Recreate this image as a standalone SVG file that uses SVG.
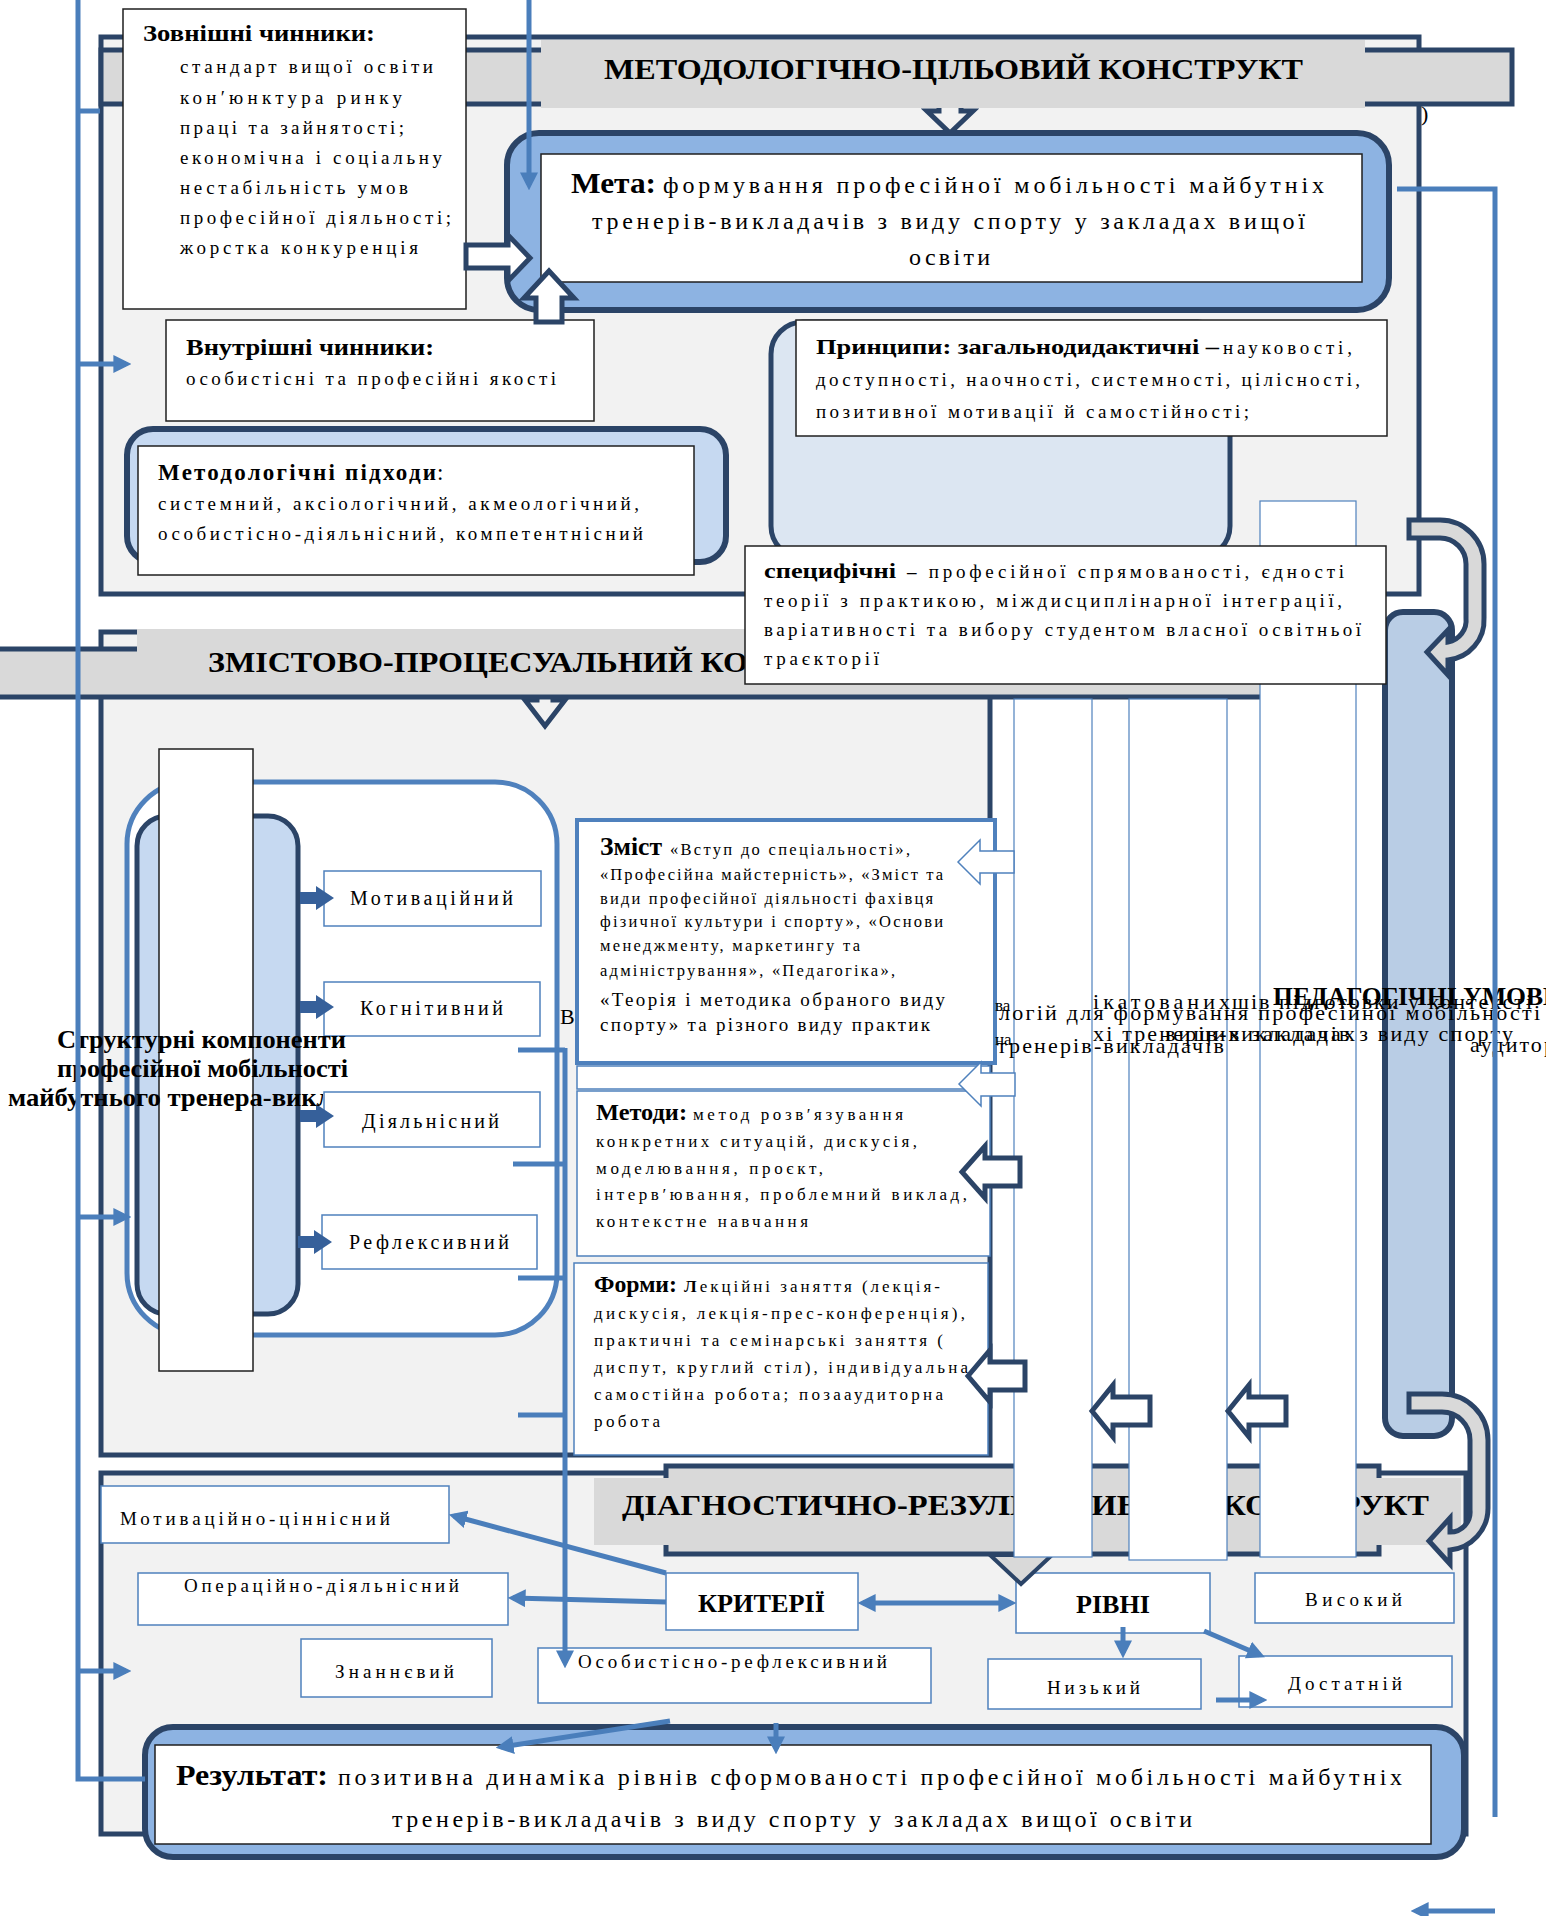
<svg xmlns="http://www.w3.org/2000/svg" width="1546" height="1916" viewBox="0 0 1546 1916">
<defs>
<style>
text{font-family:"Liberation Serif","Times New Roman",serif;fill:#000}
.b{font-weight:bold}
.frame{fill:#f2f2f2;stroke:#2b4467;stroke-width:5}
.band{fill:#d9d9d9;stroke:#2b4467;stroke-width:5}
.lite{fill:#d9d9d9}
.wbox{fill:#fff;stroke:#1f1f1f;stroke-width:1.5}
.bbox{fill:#fff;stroke:#4f81bd;stroke-width:1.5}
.conn{fill:none;stroke:#4a7ebb;stroke-width:5}
.harrow{fill:#fff;stroke:#2b4467;stroke-width:5}
.larrow{fill:#fff;stroke:#4f81bd;stroke-width:1.5}
.sarrow{fill:#36609a}
.col{fill:#fff;stroke:#4f81bd;stroke-width:1.2}
.uturn{fill:#d9d9d9;stroke:#2b4467;stroke-width:5}
</style>
<marker id="ah" viewBox="0 0 10 10" refX="7" refY="5" markerWidth="3.6" markerHeight="3.6" orient="auto-start-reverse"><path d="M0,0 L10,5 L0,10 z" fill="#4a7ebb"/></marker>
<clipPath id="clipL3"><rect x="0" y="1075" width="323" height="45"/></clipPath>
</defs>
<rect width="1546" height="1916" fill="#fff"/>

<g id="methodological-section">
<rect class="frame" x="101" y="37" width="1318" height="557"/>
<text x="1421" y="121" font-size="22">)</text>
<path class="harrow" style="fill:#f2f2f2" d="M939,96 H961 V111 H973 L950,133 L927,111 H939 Z"/>
<rect class="band" x="101" y="50" width="1411" height="54"/>
<rect class="lite" x="541" y="40" width="824" height="68"/>
<text class="b" x="604" y="79" font-size="30" textLength="699" lengthAdjust="spacingAndGlyphs">МЕТОДОЛОГІЧНО-ЦІЛЬОВИЙ КОНСТРУКТ</text>
</g>

<g id="goal">
<rect x="507" y="133" width="882" height="177" rx="32" fill="#8db3e2" stroke="#2b4467" stroke-width="6"/>
<rect class="wbox" x="541" y="154" width="821" height="128"/>
<text class="b" x="571" y="193" font-size="30" textLength="85" lengthAdjust="spacingAndGlyphs">Мета:</text>
<text x="663" y="193" font-size="24" textLength="661" lengthAdjust="spacing">формування професійної мобільності майбутніх</text>
<text x="592" y="229" font-size="24" textLength="713" lengthAdjust="spacing">тренерів-викладачів з виду спорту у закладах вищої</text>
<text x="909" y="265" font-size="24" textLength="81" lengthAdjust="spacing">освіти</text>
</g>

<g id="external-factors">
<rect class="wbox" x="123" y="9" width="343" height="300"/>
<text class="b" x="143" y="41" font-size="23" textLength="232" lengthAdjust="spacingAndGlyphs">Зовнішні чинники:</text>
<text x="180" y="73" font-size="19" textLength="253" lengthAdjust="spacing">стандарт вищої освіти</text>
<text x="180" y="104" font-size="19" textLength="222" lengthAdjust="spacing">кон′юнктура ринку</text>
<text x="180" y="134" font-size="19" textLength="224" lengthAdjust="spacing">праці та зайнятості;</text>
<text x="180" y="164" font-size="19" textLength="262" lengthAdjust="spacing">економічна і соціальну</text>
<text x="180" y="194" font-size="19" textLength="228" lengthAdjust="spacing">нестабільність умов</text>
<text x="180" y="224" font-size="19" textLength="271" lengthAdjust="spacing">професійної діяльності;</text>
<text x="180" y="254" font-size="19" textLength="238" lengthAdjust="spacing">жорстка конкуренція</text>
</g>

<g id="internal-factors">
<rect class="wbox" x="166" y="320" width="428" height="101"/>
<text class="b" x="186" y="355" font-size="23" textLength="248" lengthAdjust="spacingAndGlyphs">Внутрішні чинники:</text>
<text x="186" y="385" font-size="19" textLength="370" lengthAdjust="spacing">особистісні та професійні якості</text>
</g>

<g id="factor-arrows">
<path class="harrow" stroke-width="4" d="M466,245 H508 V235 L530,258 L508,281 V268 H466 Z"/>
<path class="harrow" stroke-width="4" d="M536,322 V298 H524 L549,271 L574,298 H562 V322 Z"/>
</g>

<g id="approaches">
<rect x="127" y="429" width="599" height="133" rx="26" fill="#c6d9f1" stroke="#2b4467" stroke-width="6"/>
<rect class="wbox" x="138" y="446" width="556" height="129"/>
<text class="b" x="158" y="480" font-size="23" textLength="278" lengthAdjust="spacing">Методологічні  підходи</text>
<text x="437" y="480" font-size="23">:</text>
<text x="158" y="510" font-size="19" textLength="481" lengthAdjust="spacing">системний, аксіологічний, акмеологічний,</text>
<text x="158" y="540" font-size="19" textLength="485" lengthAdjust="spacing">особистісно-діяльнісний, компетентнісний</text>
</g>

<g id="principles">
<rect x="771" y="322" width="459" height="236" rx="32" fill="#dce6f2" stroke="#2b4467" stroke-width="5"/>
<rect class="wbox" x="796" y="320" width="591" height="116"/>
<text class="b" x="816" y="354" font-size="22" textLength="403" lengthAdjust="spacingAndGlyphs">Принципи: загальнодидактичні –</text>
<text x="1223" y="354" font-size="19" textLength="129" lengthAdjust="spacing">науковості,</text>
<text x="816" y="386" font-size="19" textLength="544" lengthAdjust="spacing">доступності, наочності, системності, цілісності,</text>
<text x="816" y="418" font-size="19" textLength="433" lengthAdjust="spacing">позитивної мотивації й самостійності;</text>
</g>

<g id="content-section">
<rect class="frame" x="101" y="632" width="889" height="823"/>
<path class="harrow" style="fill:#f2f2f2" d="M537,688 H553 V700 H565 L545,726 L525,700 H537 Z"/>
<rect class="band" x="-5" y="649" width="1271" height="48"/>
<rect class="lite" x="137" y="629" width="1100" height="65"/>
<text class="b" x="208" y="672" font-size="30" textLength="540" lengthAdjust="spacingAndGlyphs">ЗМІСТОВО-ПРОЦЕСУАЛЬНИЙ КО</text>
</g>

<g id="structural-components">
<rect x="127" y="782" width="430" height="553" rx="62" fill="#fff" stroke="#4f81bd" stroke-width="5"/>
<rect x="137" y="816" width="161" height="498" rx="30" fill="#c6d9f1" stroke="#2b4467" stroke-width="5"/>
<rect class="wbox" x="159" y="749" width="94" height="622"/>
</g>

<g id="comp-motivational">
<rect class="bbox" x="324" y="871" width="217" height="55"/>
<text x="350" y="905" font-size="20" textLength="163" lengthAdjust="spacing">Мотиваційний</text>
</g>
<g id="comp-cognitive">
<rect class="bbox" x="324" y="982" width="216" height="54"/>
<text x="360" y="1015" font-size="20" textLength="143" lengthAdjust="spacing">Когнітивний</text>
</g>
<g id="comp-activity">
<rect class="bbox" x="324" y="1092" width="216" height="55"/>
<text x="362" y="1128" font-size="20" textLength="137" lengthAdjust="spacing">Діяльнісний</text>
</g>
<g id="comp-reflexive">
<rect class="bbox" x="322" y="1215" width="215" height="54"/>
<text x="349" y="1249" font-size="20" textLength="160" lengthAdjust="spacing">Рефлексивний</text>
</g>
<g id="comp-arrows">
<path class="sarrow" d="M300,892 H316 V886 L334,898 L316,910 V904 H300 Z"/>
<path class="sarrow" d="M300,1001 H316 V995 L334,1007 L316,1019 V1013 H300 Z"/>
<path class="sarrow" d="M300,1110 H316 V1104 L334,1116 L316,1128 V1122 H300 Z"/>
<path class="sarrow" d="M298,1236 H314 V1230 L332,1242 L314,1254 V1248 H298 Z"/>
</g>
<g id="structural-label">
<text class="b" x="57" y="1048" font-size="25" textLength="289" lengthAdjust="spacingAndGlyphs">Структурні компоненти</text>
<text class="b" x="57" y="1077" font-size="25" textLength="291" lengthAdjust="spacingAndGlyphs">професійної мобільності</text>
<text class="b" x="8" y="1106" font-size="25" textLength="391" lengthAdjust="spacingAndGlyphs" clip-path="url(#clipL3)">майбутнього тренера-викладача</text>
</g>

<g id="content">
<rect x="577" y="820" width="418" height="243" fill="#fff" stroke="#4f81bd" stroke-width="4"/>
<text class="b" x="600" y="855" font-size="25" textLength="62" lengthAdjust="spacingAndGlyphs">Зміст</text>
<text x="670" y="855" font-size="16.5" textLength="240" lengthAdjust="spacing">«Вступ до спеціальності»,</text>
<text x="600" y="880" font-size="16.5" textLength="343" lengthAdjust="spacing">«Професійна майстерність», «Зміст та</text>
<text x="600" y="904" font-size="16.5" textLength="333" lengthAdjust="spacing">види професійної діяльності фахівця</text>
<text x="600" y="927" font-size="16.5" textLength="343" lengthAdjust="spacing">фізичної культури і спорту», «Основи</text>
<text x="600" y="951" font-size="16.5" textLength="260" lengthAdjust="spacing">менеджменту, маркетингу та</text>
<text x="600" y="976" font-size="16.5" textLength="295" lengthAdjust="spacing">адміністрування», «Педагогіка»,</text>
<text x="600" y="1006" font-size="19" textLength="345" lengthAdjust="spacing">«Теорія і методика обраного виду</text>
<text x="600" y="1031" font-size="19" textLength="330" lengthAdjust="spacing">спорту» та різного виду практик</text>
</g>

<g id="methods">
<rect class="bbox" x="577" y="1066" width="413" height="23"/>
<rect class="bbox" x="577" y="1091" width="413" height="165"/>
<text class="b" x="596" y="1120" font-size="23" textLength="91" lengthAdjust="spacingAndGlyphs">Методи:</text>
<text x="693" y="1120" font-size="17" textLength="210" lengthAdjust="spacing">метод розв′язування</text>
<text x="596" y="1147" font-size="17" textLength="321" lengthAdjust="spacing">конкретних ситуацій, дискусія,</text>
<text x="596" y="1174" font-size="17" textLength="227" lengthAdjust="spacing">моделювання, проєкт,</text>
<text x="596" y="1200" font-size="17" textLength="371" lengthAdjust="spacing">інтерв′ювання, проблемний виклад,</text>
<text x="596" y="1227" font-size="17" textLength="212" lengthAdjust="spacing">контекстне навчання</text>
</g>

<g id="forms">
<rect class="bbox" x="574" y="1263" width="414" height="192"/>
<text class="b" x="594" y="1292" font-size="23" textLength="83" lengthAdjust="spacingAndGlyphs">Форми:</text>
<text x="684" y="1292" font-size="17" textLength="256" lengthAdjust="spacing"><tspan font-weight="bold">Л</tspan>екційні заняття (лекція-</text>
<text x="594" y="1319" font-size="17" textLength="371" lengthAdjust="spacing">дискусія, лекція-прес-конференція),</text>
<text x="594" y="1346" font-size="17" textLength="349" lengthAdjust="spacing">практичні та семінарські заняття (</text>
<text x="594" y="1373" font-size="17" textLength="374" lengthAdjust="spacing">диспут, круглий стіл), індивідуальна</text>
<text x="594" y="1400" font-size="17" textLength="349" lengthAdjust="spacing">самостійна робота; позааудиторна</text>
<text x="594" y="1427" font-size="17" textLength="66" lengthAdjust="spacing">робота</text>
</g>

<g id="diagnostic-section">
<rect class="frame" x="101" y="1473" width="1365" height="361"/>
<rect class="band" x="666" y="1466" width="713" height="88"/>
<rect class="lite" x="594" y="1478" width="867" height="67"/>
<text class="b" x="622" y="1515" font-size="30" textLength="807" lengthAdjust="spacingAndGlyphs">ДІАГНОСТИЧНО-РЕЗУЛЬТАТИВНИЙ КОНСТРУКТ</text>
</g>

<g id="crit-motiv"><rect class="bbox" x="101" y="1486" width="348" height="57"/><text x="120" y="1525" font-size="19" textLength="270" lengthAdjust="spacing">Мотиваційно-ціннісний</text></g>
<g id="crit-oper"><rect class="bbox" x="138" y="1573" width="370" height="52"/><text x="184" y="1592" font-size="19" textLength="275" lengthAdjust="spacing">Операційно-діяльнісний</text></g>
<g id="crit-know"><rect class="bbox" x="301" y="1639" width="191" height="58"/><text x="335" y="1678" font-size="19" textLength="119" lengthAdjust="spacing">Знаннєвий</text></g>
<g id="crit-pers"><rect class="bbox" x="538" y="1648" width="393" height="55"/><text x="578" y="1668" font-size="19" textLength="309" lengthAdjust="spacing">Особистісно-рефлексивний</text></g>
<g id="criteria"><rect class="bbox" x="666" y="1573" width="192" height="57"/><text class="b" x="698" y="1612" font-size="25" textLength="127" lengthAdjust="spacingAndGlyphs">КРИТЕРІЇ</text></g>
<g id="levels"><rect class="bbox" x="1016" y="1573" width="194" height="60"/><text class="b" x="1076" y="1613" font-size="25" textLength="74" lengthAdjust="spacingAndGlyphs">РІВНІ</text></g>
<g id="lvl-high"><rect class="bbox" x="1255" y="1573" width="199" height="50"/><text x="1305" y="1606" font-size="19" textLength="97" lengthAdjust="spacing">Високий</text></g>
<g id="lvl-low"><rect class="bbox" x="988" y="1659" width="213" height="50"/><text x="1047" y="1694" font-size="19" textLength="93" lengthAdjust="spacing">Низький</text></g>
<g id="lvl-mid"><rect class="bbox" x="1239" y="1656" width="213" height="51"/><text x="1288" y="1690" font-size="19" textLength="114" lengthAdjust="spacing">Достатній</text></g>
<path id="diag-pointer" d="M990,1555 L1052,1555 L1021,1584 Z" fill="#d9d9d9" stroke="#2b4467" stroke-width="4"/>

<g id="result">
<rect x="145" y="1727" width="1319" height="130" rx="28" fill="#8db3e2" stroke="#2b4467" stroke-width="6"/>
<rect class="wbox" x="155" y="1745" width="1276" height="99"/>
<text class="b" x="176" y="1785" font-size="30" textLength="152" lengthAdjust="spacingAndGlyphs">Результат:</text>
<text x="338" y="1785" font-size="24" textLength="1064" lengthAdjust="spacing">позитивна динаміка рівнів сформованості професійної мобільності майбутніх</text>
<text x="392" y="1827" font-size="24" textLength="800" lengthAdjust="spacing">тренерів-викладачів з виду спорту у закладах вищої освіти</text>
</g>

<g id="columns">
<rect class="col" x="1014" y="699" width="78" height="858"/>
<rect class="col" x="1129" y="699" width="98" height="861"/>
<rect class="col" x="1260" y="501" width="96" height="1056"/>
</g>

<g id="conditions-bar">
<rect x="1385" y="612" width="67" height="824" rx="18" fill="#b9cde5" stroke="#2b4467" stroke-width="6"/>
</g>

<g id="pedagogical-conditions-text">
<text x="560" y="1024" font-size="22">В</text>
<text x="999" y="1020" font-size="22" textLength="541" lengthAdjust="spacing">логій для формування професійної мобільності</text>
<text x="997" y="1053" font-size="22" textLength="227" lengthAdjust="spacing">тренерів-викладачів</text>
<text x="995" y="1011" font-size="17">ва</text>
<text x="995" y="1045" font-size="17">на</text>
<text x="1093" y="1009" font-size="22" textLength="137" lengthAdjust="spacing">ікатованих</text>
<text x="1232" y="1009" font-size="22" textLength="300" lengthAdjust="spacing">шів підготовки у контексті</text>
<text x="1093" y="1041" font-size="22" textLength="420" lengthAdjust="spacing">хі тренерів-викладачів з виду спорту</text>
<text x="1165" y="1041" font-size="22" textLength="190" lengthAdjust="spacing">вищих закладах</text>
<text x="1470" y="1052" font-size="22" textLength="120" lengthAdjust="spacing">аудиторної</text>
<text class="b" x="1273" y="1005" font-size="26" textLength="290" lengthAdjust="spacingAndGlyphs">ПЕДАГОГІЧНІ УМОВИ</text>
</g>

<g id="block-arrows">
<path class="larrow" d="M958,862 L980,840 V851 H1014 V873 H980 V884 Z"/>
<path class="larrow" d="M959,1084 L981,1062 V1073 H1015 V1096 H981 V1106 Z"/>
<path class="harrow" d="M962,1172 L985,1146 V1158 H1020 V1186 H985 V1198 Z"/>
<path class="harrow" d="M968,1376 L990,1350 V1362 H1025 V1390 H990 V1402 Z"/>
<path class="harrow" d="M1092,1411 L1113,1385 V1397 H1150 V1425 H1113 V1437 Z"/>
<path class="harrow" d="M1228,1411 L1249,1385 V1397 H1286 V1425 H1249 V1437 Z"/>
<path class="uturn" d="M1409,520 H1440 A44,44 0 0 1 1484,564 V618 A40,40 0 0 1 1448,660 V675 L1427,652 L1448,630 V642 A22,22 0 0 0 1466,618 V564 A26,26 0 0 0 1440,538 H1409 Z"/>
<path class="uturn" d="M1409,1394 H1442 A46,46 0 0 1 1488,1440 V1508 A42,42 0 0 1 1450,1550 V1564 L1429,1541 L1450,1518 V1532 A20,20 0 0 0 1470,1510 V1440 A28,28 0 0 0 1442,1412 H1409 Z"/>
</g>

<g id="specific-principles">
<rect class="wbox" x="745" y="546" width="641" height="138"/>
<text class="b" x="764" y="578" font-size="22" textLength="132" lengthAdjust="spacingAndGlyphs">специфічні</text>
<text x="907" y="578" font-size="19" textLength="437" lengthAdjust="spacing"><tspan font-weight="bold">–</tspan> професійної спрямованості, єдності</text>
<text x="764" y="607" font-size="19" textLength="578" lengthAdjust="spacing">теорії з практикою, міждисциплінарної інтеграції,</text>
<text x="764" y="636" font-size="19" textLength="597" lengthAdjust="spacing">варіативності та вибору студентом власної освітньої</text>
<text x="764" y="665" font-size="19" textLength="115" lengthAdjust="spacing">траєкторії</text>
</g>

<g id="connectors">
<path class="conn" d="M78,0 V1779 H145"/>
<path class="conn" d="M78,111 H100"/>
<path class="conn" d="M78,364 H126" marker-end="url(#ah)"/>
<path class="conn" d="M78,1217 H126" marker-end="url(#ah)"/>
<path class="conn" d="M78,1671 H126" marker-end="url(#ah)"/>
<path class="conn" d="M529,0 V185" marker-end="url(#ah)"/>
<path class="conn" d="M1397,189 H1495 V1817"/>
<path class="conn" d="M1495,1911 H1416" marker-end="url(#ah)"/>
<path class="conn" d="M518,1050 H565 M513,1164 H565 M518,1278 H565 M518,1415 H565"/>
<path class="conn" d="M565,1048 V1663" marker-end="url(#ah)"/>
<path class="conn" d="M666,1573 L454,1516" marker-end="url(#ah)"/>
<path class="conn" d="M666,1602 L513,1598" marker-end="url(#ah)"/>
<path class="conn" d="M863,1603 H1011" marker-start="url(#ah)" marker-end="url(#ah)"/>
<path class="conn" d="M1123,1627 V1653" marker-end="url(#ah)"/>
<path class="conn" d="M1204,1631 L1260,1655" marker-end="url(#ah)"/>
<path class="conn" d="M1216,1700 H1262" marker-end="url(#ah)"/>
<path class="conn" d="M670,1721 L501,1747" marker-end="url(#ah)"/>
<path class="conn" stroke-width="3" d="M776,1723 V1749" marker-end="url(#ah)"/>
</g>
</svg>
